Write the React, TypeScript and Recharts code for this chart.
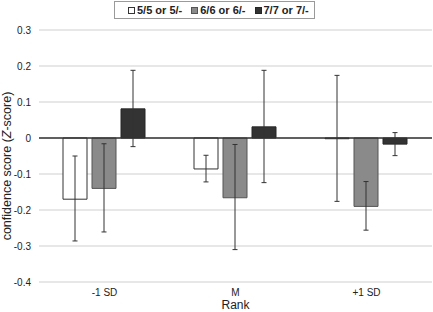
import React from "react";
import {
  Bar,
  BarChart,
  CartesianGrid,
  ErrorBar,
  Legend,
  ReferenceLine,
  XAxis,
  YAxis,
} from "recharts";

const ranks = ["-1 SD", "M", "+1 SD"];
const seriesNames = ["5/5 or 5/-", "6/6 or 6/-", "7/7 or 7/-"];
const yTicks = [-0.4, -0.3, -0.2, -0.1, 0, 0.1, 0.2, 0.3];

// mean z-scores per rank
const score5 = [-0.17, -0.086, -0.002];
const score6 = [-0.14, -0.166, -0.19];
const score7 = [0.081, 0.031, -0.017];

// error bar ends (lower, upper)
const low5 = [-0.286, -0.122, -0.176];
const high5 = [-0.05, -0.048, 0.174];
const low6 = [-0.261, -0.31, -0.256];
const high6 = [-0.016, -0.018, -0.121];
const low7 = [-0.024, -0.124, -0.049];
const high7 = [0.188, 0.188, 0.015];

const styles = [
  { fill: "#ffffff", stroke: "#333333" },
  { fill: "#8a8a8a", stroke: "#555555" },
  { fill: "#333333", stroke: "#262626" },
];

const chartData = ranks.map((rank, i) => ({
  rank,
  s5: score5[i],
  s6: score6[i],
  s7: score7[i],
  e5: [score5[i] - low5[i], high5[i] - score5[i]],
  e6: [score6[i] - low6[i], high6[i] - score6[i]],
  e7: [score7[i] - low7[i], high7[i] - score7[i]],
}));

const font = "Arial, 'Liberation Sans', sans-serif";

function LegendBox() {
  return (
    <div
      style={{
        boxSizing: "border-box",
        height: 18,
        width: 201,
        border: "1px solid #9a9a9a",
        display: "flex",
        alignItems: "center",
        paddingLeft: 13,
        fontFamily: font,
        fontSize: 11,
        fontWeight: "bold",
        color: "#222",
        background: "#fff",
        whiteSpace: "nowrap",
      }}
    >
      {seriesNames.map((name, i) => (
        <span
          key={name}
          style={{ display: "flex", alignItems: "center", marginRight: 9 }}
        >
          <span
            style={{
              display: "inline-block",
              boxSizing: "border-box",
              width: 7,
              height: 7,
              background: styles[i].fill,
              border: `1px solid ${styles[i].stroke}`,
              marginRight: 2,
            }}
          />
          {name}
        </span>
      ))}
    </div>
  );
}

function YLabel(props: any) {
  const vb = props.viewBox || {};
  const cx = 7;
  const cy = (vb.y ?? 30) + (vb.height ?? 252) / 2 + 10;
  return (
    <text
      x={cx}
      y={cy}
      transform={`rotate(-90, ${cx}, ${cy})`}
      textAnchor="middle"
      dominantBaseline="central"
      fontFamily={font}
      fontSize={12.5}
      fill="#222"
    >
      confidence score (<tspan fontStyle="italic">Z</tspan>-score)
    </text>
  );
}

export default function App() {
  const keys = ["s5", "s6", "s7"];
  const errKeys = ["e5", "e6", "e7"];
  return (
    <div style={{ position: "fixed", left: 0, top: 0, background: "#fff" }}>
      <BarChart
        width={433}
        height={312}
        data={chartData}
        margin={{ top: 12, right: 1, bottom: 0, left: 0 }}
        barCategoryGap={24}
        barGap={5}
      >
        <CartesianGrid vertical={false} stroke="#d0d0d0" strokeWidth={1.2} />
        <XAxis
          dataKey="rank"
          axisLine={false}
          tickLine={false}
          tickSize={0}
          tickMargin={7}
          height={30}
          tick={{ fontFamily: font, fontSize: 10, fill: "#222" }}
          label={{
            value: "Rank",
            position: "insideBottom",
            offset: 3,
            fontFamily: font,
            fontSize: 12,
            fill: "#222",
          }}
        />
        <YAxis
          width={39}
          domain={[-0.4, 0.3]}
          ticks={yTicks}
          interval={0}
          axisLine={false}
          tickLine={false}
          tickSize={0}
          tickMargin={8}
          tick={{ fontFamily: font, fontSize: 10, fill: "#222" }}
          label={<YLabel />}
        />
        <Legend
          verticalAlign="top"
          align="left"
          wrapperStyle={{ top: 1, left: 114, width: 201 }}
          content={() => <LegendBox />}
        />
        {keys.map((k, i) => (
          <Bar
            key={k}
            dataKey={k}
            name={seriesNames[i]}
            fill={styles[i].fill}
            stroke={styles[i].stroke}
            strokeWidth={1}
            isAnimationActive={false}
          >
            <ErrorBar
              dataKey={errKeys[i]}
              width={2.5}
              stroke="#333"
              strokeWidth={1}
              direction="y"
            />
          </Bar>
        ))}
        <ReferenceLine y={0} stroke="#333" strokeWidth={1.3} />
      </BarChart>
    </div>
  );
}
